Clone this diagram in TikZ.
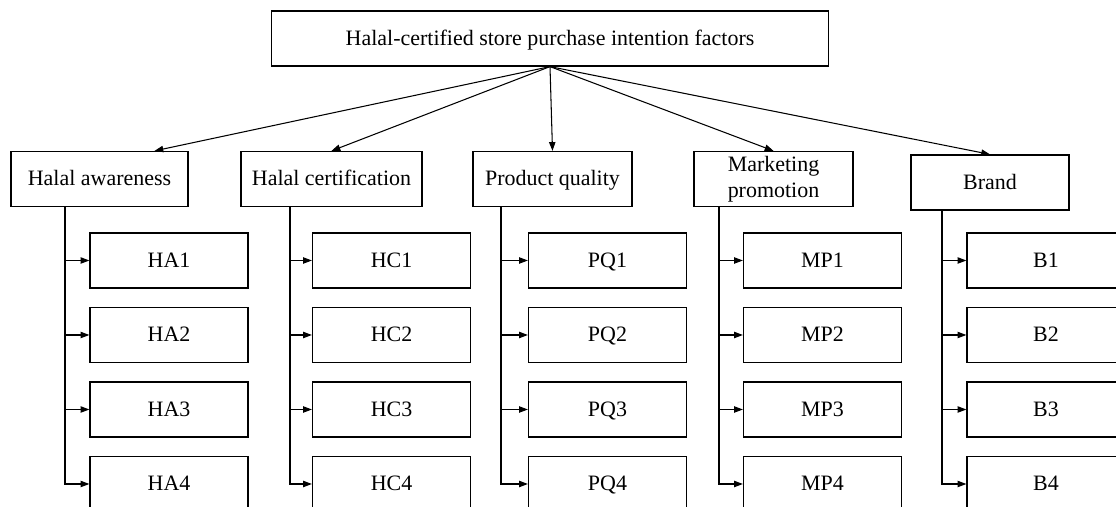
\documentclass[tikz,border=0pt]{standalone}
\usepackage{fontspec}
\setmainfont{Liberation Serif}
\usetikzlibrary{arrows.meta}

\begin{document}
\begin{tikzpicture}[
        frame/.style={draw,line width=0.7pt,minimum height=1.1cm,inner sep=0pt,align=center,font=\fontsize{12.5}{15}\selectfont},
        box/.style={frame,text height=2.1ex,text depth=0.4ex},
        item/.style={box,minimum width=3.16cm},
        tip/.style={line width=0.6pt,-{Triangle[length=5pt,width=3.6pt]}}]
            % \draw[help lines] grid(22,10);

            \useasboundingbox (0,0) rectangle (22.32,10.14);

            \node[box,minimum width=11.14cm] (top) at (11.0,9.37) {Halal-certified store purchase intention factors};

            \node[box,minimum width=3.54cm] (ha) at (1.99,6.56) {Halal awareness};
            \node[box,minimum width=3.62cm] (hc) at (6.63,6.56) {Halal certification};
            \node[box,minimum width=3.18cm] (pq) at (11.05,6.56) {Product quality};
            \node[frame,minimum width=3.18cm] (mp) at (15.47,6.56) {Marketing\\promotion};
            \node[box,minimum width=3.16cm] (b) at (19.8,6.49) {Brand};

            \draw[tip] (top.south) -- ([xshift=1.1cm]ha.north);
            \draw[tip] (top.south) -- (hc.north);
            \draw[tip] (top.south) -- (pq.north);
            \draw[tip] (top.south) -- (mp.north);
            \draw[tip] (top.south) -- (b.north);

            \foreach \col/\sx/\ix/\lbl in {ha/1.30/3.38/HA, hc/5.80/7.83/HC, pq/10.02/12.15/PQ, mp/14.38/16.45/MP, b/18.84/20.92/B} {
                \coordinate (\col spine) at (\sx,0);
                \foreach \r/\y in {1/4.93,2/3.44,3/1.95,4/0.46}
                    \node[item] (\col\r) at (\ix,\y) {\lbl\r};
                \draw[tip] (\col spine |- \col.south) |- (\col4.west);
                \foreach \r in {1,2,3}
                    \draw[tip] (\col spine |- \col\r.west) -- (\col\r.west);
            }
        \end{tikzpicture}
\end{document}
